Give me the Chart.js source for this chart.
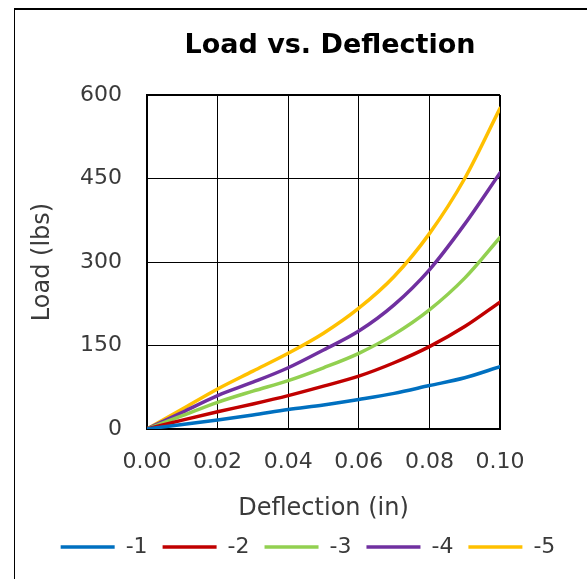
<!DOCTYPE html>
<html>
<head>
<meta charset="utf-8">
<script src="https://cdn.jsdelivr.net/npm/chart.js@4"></script>
<style>
    html, body { margin: 0; padding: 0; background: #fff; overflow: hidden; }
    #wrap { position: relative; width: 587px; height: 579px; }
    #frame {
        position: absolute; left: 14px; top: 8px; width: 640px; height: 640px;
        border-top: 2px solid #000; border-left: 1.5px solid #000;
    }
    #chart { position: absolute; left: 0; top: 0; }
</style>
</head>
<body>
<div id="wrap">
    <div id="frame"></div>
    <canvas id="chart" width="587" height="579"></canvas>
</div>
<script>
// Données (déflexion en pouces, charge en lbs)
const deflection = [0, 0.01, 0.02, 0.03, 0.04, 0.05, 0.06, 0.07, 0.08, 0.09, 0.10];
const load1 = [0, 8, 16, 25, 35, 43, 53, 64, 78, 92, 112];
const load2 = [0, 16, 31, 45, 60, 77, 95, 119, 148, 184, 228];
const load3 = [0, 24, 48, 68, 87, 110, 136, 170, 214, 271, 344];
const load4 = [0, 30, 60, 84, 110, 142, 176, 223, 286, 368, 460];
const load5 = [0, 36, 72, 104, 136, 172, 217, 274, 351, 450, 576];
const seriesNames = ["-1", "-2", "-3", "-4", "-5"];
const seriesColors = ["#0070C0", "#C00000", "#92D050", "#7030A0", "#FFC000"];

const FONT = "'DejaVu Sans', sans-serif";
const TEXT = "#3a3a3a";

function toPoints(ys) {
    return deflection.map((x, i) => ({ x: x, y: ys[i] }));
}

// Recentre titre et légende comme sur l'original (Excel)
const shiftBoxes = {
    id: "shiftBoxes",
    afterLayout(chart) {
        const tb = chart.titleBlock;
        if (tb) {
            const d = 330 - (tb.left + tb.right) / 2;
            tb.left += d; tb.right += d;
        }
        const lg = chart.legend;
        if (lg) {
            const d = 308 - (lg.left + lg.right) / 2;
            lg.left += d; lg.right += d;
        }
    },
};

const allLoads = [load1, load2, load3, load4, load5];

new Chart(document.getElementById("chart"), {
    type: "line",
    data: {
        datasets: allLoads.map((ys, i) => ({
            label: seriesNames[i],
            data: toPoints(ys),
            borderColor: seriesColors[i],
            backgroundColor: seriesColors[i],
            borderWidth: 3.5,
            borderCapStyle: "round",
            pointRadius: 0,
            tension: 0.4,
            cubicInterpolationMode: "monotone",
            fill: false,
        })),
    },
    options: {
        responsive: false,
        animation: false,
        layout: { padding: { left: 0, right: 0, top: 26, bottom: 11 } },
        plugins: {
            title: {
                display: true,
                text: "Load vs. Deflection",
                color: "#000",
                font: { family: FONT, size: 27, weight: "bold" },
                padding: { top: 4, bottom: 32.6 },
            },
            legend: {
                position: "bottom",
                labels: {
                    usePointStyle: true,
                    pointStyle: "line",
                    pointStyleWidth: 54,
                    boxWidth: 54,
                    padding: 15,
                    color: TEXT,
                    font: { family: FONT, size: 22 },
                },
            },
            tooltip: { enabled: false },
        },
        scales: {
            x: {
                type: "linear",
                min: 0,
                max: 0.1,
                ticks: {
                    stepSize: 0.02,
                    padding: 20,
                    color: TEXT,
                    font: { family: FONT, size: 22 },
                    callback: (v) => v.toFixed(2),
                },
                grid: {
                    color: "#000",
                    drawTicks: false,
                    lineWidth: (ctx) => (ctx.index === 5 ? 2 : 1),
                },
                border: { color: "#000", width: 2 },
                title: {
                    display: true,
                    text: "Deflection (in)",
                    color: TEXT,
                    font: { family: FONT, size: 24, lineHeight: 1 },
                    padding: { top: 0, bottom: 0 },
                },
                afterFit(s) { s.height = 92; },
            },
            y: {
                type: "linear",
                min: 0,
                max: 600,
                ticks: {
                    stepSize: 150,
                    padding: 25,
                    color: TEXT,
                    font: { family: FONT, size: 22 },
                },
                grid: {
                    color: "#000",
                    drawTicks: false,
                    lineWidth: (ctx) => (ctx.tick && ctx.tick.value === 600 ? 2 : 1),
                },
                border: { color: "#000", width: 2 },
                title: {
                    display: true,
                    text: "Load (lbs)",
                    color: TEXT,
                    font: { family: FONT, size: 24, lineHeight: 1 },
                    padding: { top: 31, bottom: 0 },
                },
                afterFit(s) { s.width = 147; },
            },
            yR: {
                type: "linear",
                position: "right",
                min: 0,
                max: 1,
                grid: { display: false },
                border: { display: false },
                ticks: { display: false },
                afterFit(s) { s.width = 87; },
            },
        },
    },
    plugins: [shiftBoxes],
});
</script>
</body>
</html>
